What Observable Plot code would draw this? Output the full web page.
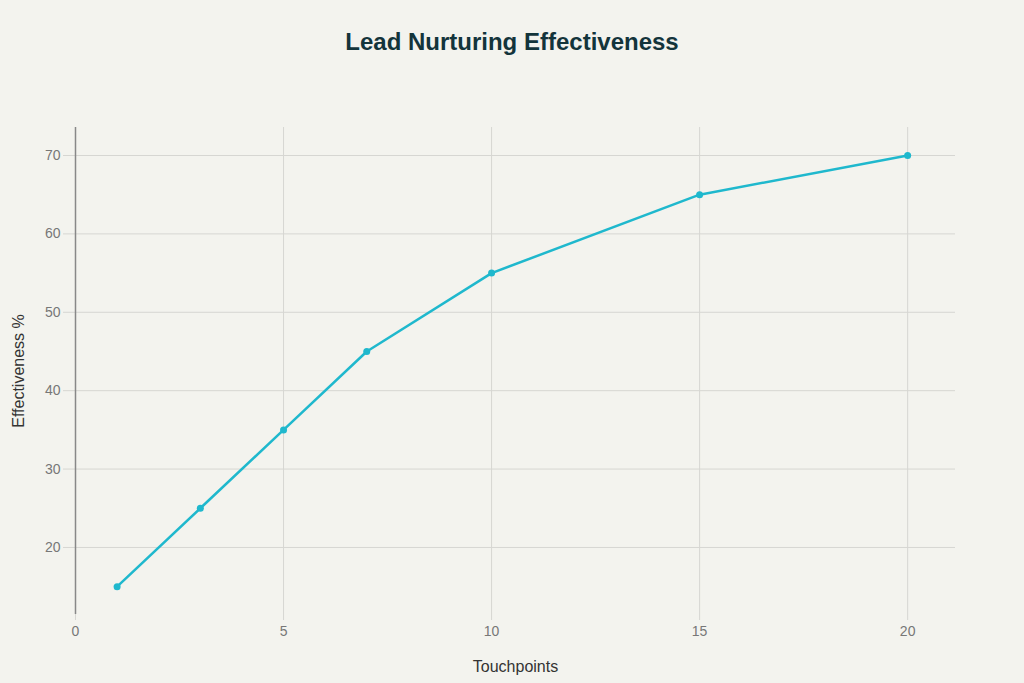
<!DOCTYPE html>
<html><head><meta charset="utf-8">
<script src="https://cdn.jsdelivr.net/npm/d3@7"></script>
<script src="https://cdn.jsdelivr.net/npm/@observablehq/plot@0.6"></script>
<style>
html,body{margin:0;padding:0;background:#f3f3ee;width:1024px;height:683px;overflow:hidden;font-family:"Liberation Sans",Arial,sans-serif;}
#title{height:80px;line-height:84px;text-align:center;font-size:24px;font-weight:bold;color:#13343b;}
svg{display:block}
</style></head><body>
<div id="title">Lead Nurturing Effectiveness</div>
<div id="chart"></div>
<script>
const touchpoints = [1, 3, 5, 7, 10, 15, 20];
const effectiveness = [15, 25, 35, 45, 55, 65, 70];
const xTicks = [0, 5, 10, 15, 20];
const yTicks = [20, 30, 40, 50, 60, 70];
const data = touchpoints.map((t, i) => ({t, e: effectiveness[i]}));

const chart = Plot.plot({
  width: 1024,
  height: 603,
  marginTop: 47,
  marginBottom: 69,
  marginLeft: 75,
  marginRight: 69,
  style: {background: "transparent", fontFamily: "Liberation Sans, Arial, sans-serif", fontSize: "14px", color: "#777"},
  x: {domain: [0, 21.15], ticks: xTicks, label: null},
  y: {domain: [11.45, 73.57], ticks: yTicks, label: null},
  marks: [
    Plot.gridX(xTicks, {stroke: "#d6d6d2", strokeOpacity: 1}),
    Plot.gridY(yTicks, {stroke: "#d6d6d2", strokeOpacity: 1}),
    Plot.axisX(xTicks, {tickSize: 6, stroke: "#d6d6d2", tickPadding: 6, fill: "#777", fontSize: 14}),
    Plot.axisY(yTicks, {tickSize: 12, stroke: "#d6d6d2", tickPadding: 3, fill: "#777", fontSize: 14}),
    Plot.ruleX([0], {stroke: "#888", strokeWidth: 1.5}),
    Plot.line(data, {x: "t", y: "e", stroke: "#1fb8cd", strokeWidth: 2.5}),
    Plot.dot(data, {x: "t", y: "e", fill: "#1fb8cd", r: 3.5}),
    Plot.text(["Touchpoints"], {frameAnchor: "bottom", dy: 57, fontSize: 16, fill: "#333"}),
    Plot.text(["Effectiveness %"], {frameAnchor: "left", dx: -57, rotate: -90, textAnchor: "middle", fontSize: 16, fill: "#333"})
  ]
});
document.getElementById("chart").appendChild(chart);
</script>
</body></html>
